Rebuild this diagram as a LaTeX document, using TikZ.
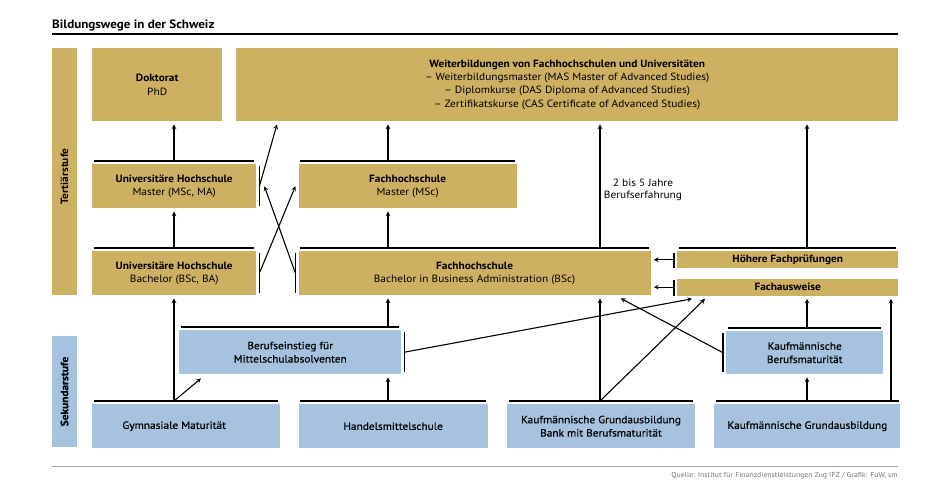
\documentclass[tikz,border=0pt]{standalone}
\usepackage{fontspec}
\setmainfont{PT Sans}[FakeStretch=1.08]
\newfontfamily\semib{PT Sans}[FakeStretch=1.08,FakeBold=0.6]
\usetikzlibrary{arrows,positioning}
\definecolor{gold}{RGB}{206,176,98}
\definecolor{skyblue}{RGB}{166,194,222}
\tikzset{
    tert/.style={fill=gold,inner sep=0pt,align=center,anchor=north west,
        font=\fontsize{10.5}{13.3}\selectfont},
    sek/.style={fill=skyblue,inner sep=0pt,align=center,anchor=north west,
        font=\fontsize{10.5}{13.3}\selectfont\semib},
    pre/.style={->,line width=1.1pt,>=stealth},
    bar/.style={-,line width=1.1pt}
}

\begin{document}
\begin{tikzpicture}[x=1pt,y=-1pt]
    \useasboundingbox (0,0) rectangle (950,490);
    % title and rules
    \node[anchor=base west,inner sep=0pt,font=\bfseries\fontsize{12.1}{15}\selectfont] (title) at (52,28) {Bildungswege in der Schweiz};
    \draw[line width=1.5pt] (52,34) -- (898,34);
    \draw[black!35,line width=0.8pt] (52,466) -- (898,466);
    \node[anchor=base east,inner sep=0pt,text=black!55,font=\fontsize{7.2}{8}\selectfont] (src) at (898,477) {Quelle: Institut für Finanzdienstleistungen Zug IFZ / Grafik: FuW, sm};

    % levels
    \node[tert,rotate=90,anchor=center,minimum width=247pt,minimum height=25pt] (tst) at (64.5,171.5) {\textbf{Tertiärstufe}\hspace*{10pt}};
    \node[sek,rotate=90,anchor=center,minimum width=111pt,minimum height=25pt] (sst) at (64.5,391.5) {\textbf{Sekundarstufe}};

    % tertiary
    \node[tert,minimum width=130pt,minimum height=73pt] (dok) at (92,48) {\textbf{Doktorat}\\PhD};
    \node[tert,minimum width=662pt,minimum height=73pt] (wb) at (236,48) {\textbf{Weiterbildungen von Fachhochschulen und Universitäten}\\– Weiterbildungsmaster (MAS Master of Advanced Studies)\\– Diplomkurse (DAS Diploma of Advanced Studies)\\– Zertifikatskurse (CAS Certificate of Advanced Studies)};
    \node[tert,minimum width=164pt,minimum height=44pt] (unim) at (92,164) {\textbf{Universitäre Hochschule}\\Master (MSc, MA)};
    \node[tert,minimum width=218pt,minimum height=44pt,right=42pt of unim.north east,anchor=north west] (fhm) {\textbf{Fachhochschule}\\Master (MSc)};
    \node[tert,minimum width=164pt,minimum height=44pt] (unib) at (92,251) {\textbf{Universitäre Hochschule}\\Bachelor (BSc, BA)};
    \node[tert,minimum width=352pt,minimum height=44pt,right=42pt of unib.north east,anchor=north west] (fhb) {\textbf{Fachhochschule}\\Bachelor in Business Administration (BSc)};
    \node[tert,minimum width=221pt,minimum height=17pt] (hfp) at (677,251) {\textbf{Höhere Fachprüfungen}};
    \node[tert,minimum width=221pt,minimum height=17pt,below=10pt of hfp.south west,anchor=north west] (fa) {\textbf{Fachausweise}};
    \node[align=center,font=\fontsize{10.5}{12.5}\selectfont] (bfe) at (643,190) {2 bis 5 Jahre\\Berufserfahrung};

    % secondary
    \node[sek,minimum width=222pt,minimum height=44pt] (bei) at (179,330) {Berufseinstieg für\\Mittelschulabsolventen};
    \node[sek,minimum width=157pt,minimum height=43pt] (kbm) at (726,331) {Kaufmännische\\Berufsmaturität};
    \node[sek,minimum width=188pt,minimum height=44pt] (gym) at (92,404) {Gymnasiale Maturität\hspace*{24pt}};
    \node[sek,minimum width=189pt,minimum height=44pt,right=18pt of gym.north east,anchor=north west] (hms) {Handelsmittelschule};
    \node[sek,minimum width=188pt,minimum height=44pt,right=19pt of hms.north east,anchor=north west] (bank) {Kaufmännische Grundausbildung\\Bank mit Berufsmaturität};
    \node[sek,minimum width=186pt,minimum height=44pt,right=19pt of bank.north east,anchor=north west] (kga) {Kaufmännische Grundausbildung};

    % lines above the boxes and side bars
    \foreach \n in {unim,fhm,unib,fhb,hfp,bei,kbm,gym,hms,bank,kga}
        \draw[bar] ([shift={(2,-3)}]\n.north west) -- ([shift={(-2,-3)}]\n.north east);
    \foreach \n in {unim,unib,bei}
        \draw[bar] ([shift={(3,2)}]\n.north east) -- ([shift={(3,-2)}]\n.south east);
    \foreach \n in {fhb,kbm}
        \draw[bar] ([shift={(-3,2)}]\n.north west) -- ([shift={(-3,-2)}]\n.south west);
    \foreach \n in {hfp,fa}
        \draw[bar] ([shift={(-3,2)}]\n.north west) -- ([shift={(-3,0)}]\n.south west);

    % columns of the upward arrows
    \foreach \n/\x in {ua/174,fh/388,bk/600,kf/807,ka/891}
        \coordinate (col-\n) at (\x,0);

    % straight arrows
    \draw[pre] ([yshift=3pt]unim.north -| col-ua) -- ([yshift=-3pt]dok.south -| col-ua);
    \draw[pre] ([yshift=3pt]fhm.north -| col-fh) -- ([yshift=-3pt]wb.south -| col-fh);
    \draw[pre] ([yshift=3pt]fhb.north -| col-bk) -- ([yshift=-3pt]wb.south -| col-bk);
    \draw[pre] ([yshift=3pt]hfp.north -| col-kf) -- ([yshift=-3pt]wb.south -| col-kf);
    \draw[pre] ([yshift=3pt]unib.north -| col-ua) -- ([yshift=-3pt]unim.south -| col-ua);
    \draw[pre] ([yshift=3pt]fhb.north -| col-fh) -- ([yshift=-3pt]fhm.south -| col-fh);
    \draw[pre] ([yshift=3pt]gym.north -| col-ua) -- ([yshift=-3pt]unib.south -| col-ua);
    \draw[pre] ([yshift=3pt]bei.north -| col-fh) -- ([yshift=-3pt]fhb.south -| col-fh);
    \draw[pre] ([yshift=3pt]hms.north -| col-fh) -- ([yshift=-3pt]bei.south -| col-fh);
    \draw[pre] ([yshift=3pt]bank.north -| col-bk) -- ([yshift=-3pt]fhb.south -| col-bk);
    \draw[pre] ([yshift=3pt]kbm.north -| col-kf) -- ([yshift=-3pt]fa.south -| col-kf);
    \draw[pre] ([yshift=3pt]kga.north -| col-kf) -- ([yshift=-3pt]kbm.south -| col-kf);
    \draw[pre] ([yshift=3pt]kga.north -| col-ka) -- ([yshift=-3pt]fa.south -| col-ka);
    \draw[pre] ([xshift=-3pt]hfp.west) -- ([xshift=3pt]fhb.east |- hfp.west);
    \draw[pre] ([xshift=-3pt]fa.west) -- ([xshift=3pt]fhb.east |- fa.west);

    % crossing arrows
    \draw[pre] ([xshift=3pt]unim.east) -- ([shift={(41,3)}]wb.south west);
    \draw[pre] ([xshift=3pt]unib.east) -- ([xshift=-3pt]fhm.west);
    \draw[pre] ([xshift=-3pt]fhb.west) -- ([xshift=8pt]unim.east);
    \draw[pre] ([yshift=3pt]gym.north -| col-ua) -- ([shift={(22,4)}]bei.south west);
    \draw[pre] ([xshift=3pt]bei.east) -- ([shift={(15,3)}]fa.south west);
    \draw[pre] ([yshift=3pt]bank.north -| col-bk) -- ([shift={(28,3)}]fa.south west);
    \draw[pre] ([xshift=-3pt]kbm.west) -- ([shift={(-30,3)}]fhb.south east);
\end{tikzpicture}
\end{document}
